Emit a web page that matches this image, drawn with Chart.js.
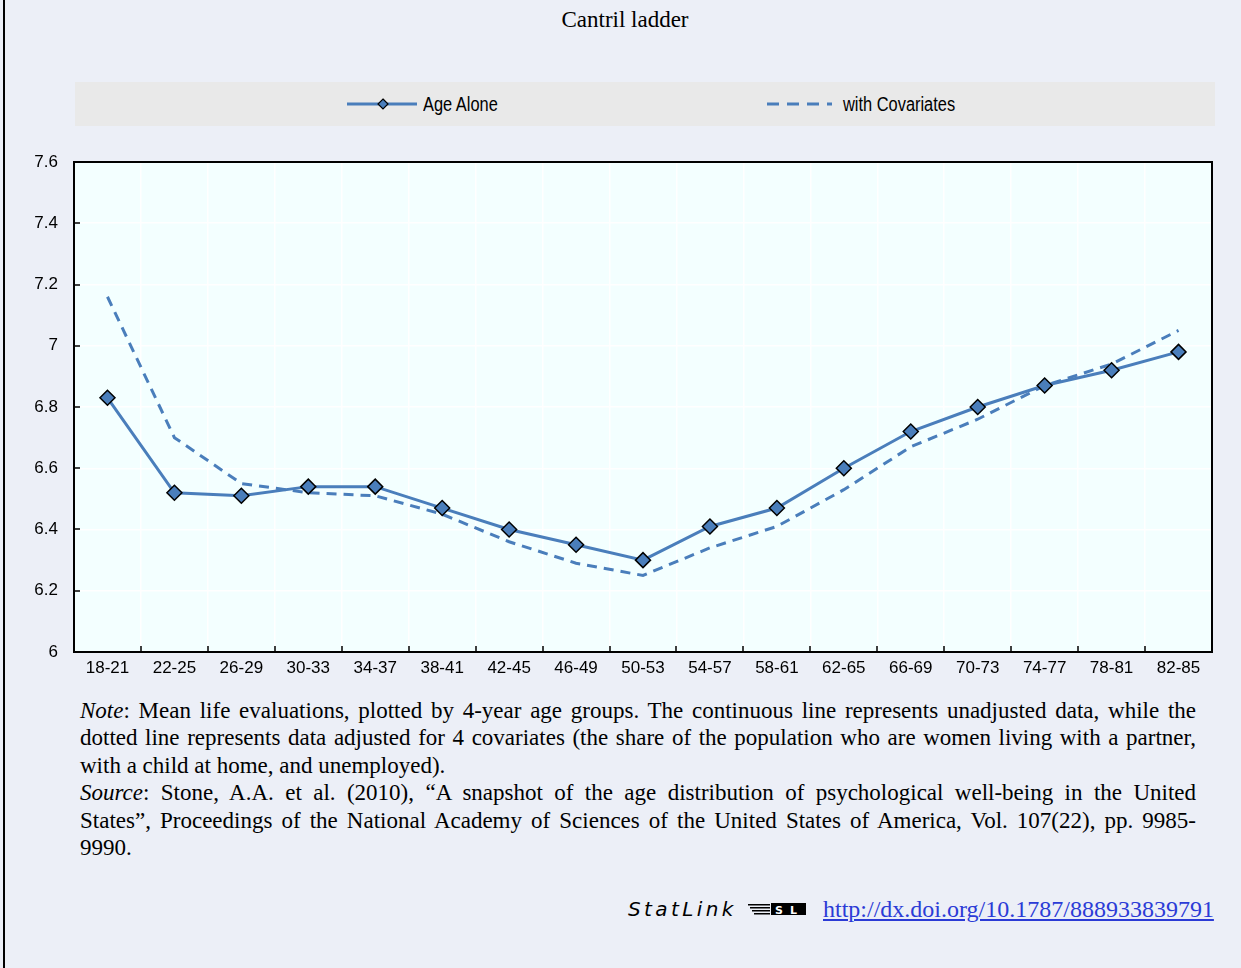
<!DOCTYPE html>
<html>
<head>
<meta charset="utf-8">
<script src="https://cdn.jsdelivr.net/npm/chart.js@4.4.0/dist/chart.umd.min.js"></script>
<style>
  body { margin: 0; width: 1241px; height: 968px; background: #ECEFF7; position: relative; overflow: hidden;
         font-family: 'Liberation Serif', 'Times New Roman', serif; color: #000; }
  .frame { position: absolute; left: 3px; top: 0; width: 2px; height: 968px; background: #000; }
  .title { position: absolute; left: 0; width: 1250px; top: 7px; text-align: center; font-size: 23px; }
  .legend { position: absolute; left: 75px; top: 82px; width: 1140px; height: 44px; background: #E9E9E9;
            font-family: 'Liberation Sans', Arial, sans-serif; font-size: 20px; }
  .legend .item { position: absolute; top: 0; height: 44px; display: flex; align-items: center; }
  .legend span { display: inline-block; transform: scaleX(0.82); transform-origin: left center; white-space: nowrap; }
  .legend svg { margin-right: 6px; }
  .chart-box { position: absolute; left: 0; top: 140px; width: 1241px; height: 552px; }
  .note { position: absolute; left: 80px; top: 697px; width: 1116px; font-size: 23px; line-height: 27.4px; }
  .note div.j { text-align: justify; text-align-last: justify; }
  .statlink > * { position: absolute; }
  .statlink .sl { left: 628px; top: 897px; font-family: 'DejaVu Sans', sans-serif; font-style: italic;
                  font-size: 20px; letter-spacing: 3.4px; line-height: 24px; }
  .statlink svg { left: 748px; top: 902px; }
  .statlink a { left: 823px; top: 895px; font-size: 24px; line-height: 28px; color: #2B3BD6; text-decoration: underline; white-space: nowrap; }
</style>
</head>
<body>
<div class="frame"></div>
<div class="title">Cantril ladder</div>

<div class="legend">
  <div class="item" style="left:272px">
    <svg width="70" height="16"><line x1="0" y1="8" x2="70" y2="8" stroke="#4A7EBB" stroke-width="3"/>
      <polygon points="36,3 41,8 36,13 31,8" fill="#4A7EBB" stroke="#000" stroke-width="1.2"/></svg>
    <span>Age Alone</span>
  </div>
  <div class="item" style="left:692px">
    <svg width="70" height="16" style="margin-right:6px"><line x1="0" y1="8" x2="65" y2="8" stroke="#4A7EBB" stroke-width="3" stroke-dasharray="12 8"/></svg>
    <span>with Covariates</span>
  </div>
</div>

<div class="chart-box"><canvas id="lifeChart"></canvas></div>

<div class="note">
  <div class="j"><i>Note</i>: Mean life evaluations, plotted by 4-year age groups. The continuous line represents unadjusted data, while the</div>
  <div class="j">dotted line represents data adjusted for 4 covariates (the share of the population who are women living with a partner,</div>
  <div>with a child at home, and unemployed).</div>
  <div class="j"><i>Source</i>: Stone, A.A. et al. (2010), “A snapshot of the age distribution of psychological well-being in the United</div>
  <div class="j">States”, Proceedings of the National Academy of Sciences of the United States of America, Vol. 107(22), pp. 9985-</div>
  <div>9990.</div>
</div>

<div class="statlink">
  <span class="sl">StatLink</span>
  <svg width="60" height="14">
    <rect x="0" y="2" width="22" height="1.5" fill="#000"/>
    <rect x="2" y="5" width="20" height="1.5" fill="#000"/>
    <rect x="4" y="8" width="18" height="1.5" fill="#000"/>
    <rect x="6" y="11" width="16" height="1.5" fill="#000"/>
    <rect x="23" y="1" width="35" height="12" fill="#000"/>
    <text x="27" y="11.5" font-family="DejaVu Sans" font-size="11" font-weight="bold" fill="#fff">S</text>
    <text x="42" y="11.5" font-family="DejaVu Sans" font-size="11" font-weight="bold" fill="#fff">L</text>
  </svg>
  <a href="#">http://dx.doi.org/10.1787/888933839791</a>
</div>

<script>
const ageGroups = ['18-21', '22-25', '26-29', '30-33', '34-37', '38-41', '42-45', '46-49', '50-53',
                   '54-57', '58-61', '62-65', '66-69', '70-73', '74-77', '78-81', '82-85'];
const ageAlone = [6.83, 6.52, 6.51, 6.54, 6.54, 6.47, 6.40, 6.35, 6.30,
                  6.41, 6.47, 6.60, 6.72, 6.80, 6.87, 6.92, 6.98];
const withCovariates = [7.16, 6.70, 6.55, 6.52, 6.51, 6.45, 6.36, 6.29, 6.25,
                        6.34, 6.41, 6.53, 6.67, 6.76, 6.87, 6.94, 7.05];
const yTickLabels = ['6', '6.2', '6.4', '6.6', '6.8', '7', '7.2', '7.4', '7.6'];

const lineBlue = '#4A7EBB';
const tickFont = { family: "'Liberation Sans', Arial, sans-serif", size: 17 };

// plot background, inside tick marks and the black frame round the plot
const plotDecor = {
  id: 'plotDecor',
  beforeDraw(chart) {
    const { ctx, chartArea: a } = chart;
    ctx.save();
    ctx.fillStyle = '#F3FFFF';
    ctx.fillRect(a.left, a.top, a.right - a.left, a.bottom - a.top);
    ctx.restore();
  },
  beforeDatasetsDraw(chart) {
    const { ctx, chartArea: a, scales } = chart;
    const xs = scales.x, ys = scales.y;
    const half = (xs.getPixelForValue(1) - xs.getPixelForValue(0)) / 2;
    ctx.save();
    ctx.strokeStyle = '#000';
    ctx.lineWidth = 1.5;
    ctx.beginPath();
    for (let i = 1; i < ageGroups.length; i++) {
      const x = Math.round(xs.getPixelForValue(i) - half);
      ctx.moveTo(x, a.bottom);
      ctx.lineTo(x, a.bottom - 6);
    }
    ys.ticks.forEach(t => {
      const y = Math.round(ys.getPixelForValue(t.value));
      ctx.moveTo(a.left, y);
      ctx.lineTo(a.left + 6, y);
    });
    ctx.stroke();
    ctx.lineWidth = 2;
    ctx.strokeRect(a.left, a.top, a.right - a.left, a.bottom - a.top);
    ctx.restore();
  }
};

new Chart(document.getElementById('lifeChart').getContext('2d'), {
  type: 'line',
  data: {
    labels: ageGroups,
    datasets: [
      {
        label: 'Age Alone',
        data: ageAlone,
        borderColor: lineBlue,
        borderWidth: 3,
        pointStyle: 'rectRot',
        pointRadius: 7.5,
        pointBackgroundColor: lineBlue,
        pointBorderColor: '#000',
        pointBorderWidth: 1.5,
        tension: 0
      },
      {
        label: 'with Covariates',
        data: withCovariates,
        borderColor: lineBlue,
        borderWidth: 3,
        borderDash: [10, 7],
        pointRadius: 0,
        tension: 0
      }
    ]
  },
  options: {
    responsive: true,
    maintainAspectRatio: false,
    animation: false,
    layout: { padding: { top: 22, right: 29, left: 0, bottom: 0 } },
    plugins: {
      legend: { display: false },
      tooltip: { enabled: false }
    },
    scales: {
      x: {
        offset: true,
        grid: { offset: true, color: '#FFFFFF', lineWidth: 1.5, drawTicks: false },
        border: { display: false },
        ticks: { color: '#000', padding: 6, maxRotation: 0, autoSkip: false, font: tickFont },
        afterFit: s => { s.height = 40; }
      },
      y: {
        min: 6,
        max: 7.6,
        grid: { color: '#FFFFFF', lineWidth: 1.5, drawTicks: false },
        border: { display: false },
        ticks: {
          stepSize: 0.2,
          color: '#000',
          padding: 16,
          font: tickFont,
          callback: (v, i) => yTickLabels[i]
        },
        afterFit: s => { s.width = 74; s.paddingTop = 0; s.paddingBottom = 0; }
      }
    }
  },
  plugins: [plotDecor]
});
</script>
</body>
</html>
